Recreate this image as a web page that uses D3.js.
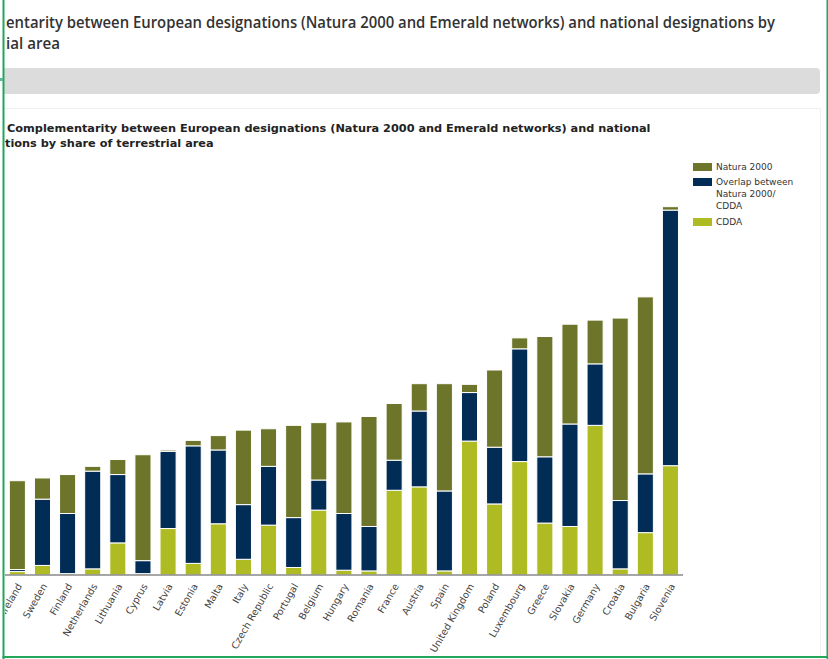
<!DOCTYPE html>
<html>
<head>
<meta charset="utf-8">
<script src="https://cdn.jsdelivr.net/npm/d3@7"></script>
<style>
  body { margin: 0; background: #fff; }
  svg { display: block; }
</style>
</head>
<body>
<svg id="chart" width="828" height="659"></svg>
<script>
// values in % of terrestrial area
var countries = ["Ireland", "Sweden", "Finland", "Netherlands", "Lithuania", "Cyprus", "Latvia", "Estonia",
  "Malta", "Italy", "Czech Republic", "Portugal", "Belgium", "Hungary", "Romania", "France", "Austria",
  "Spain", "United Kingdom", "Poland", "Luxembourg", "Greece", "Slovakia", "Germany", "Croatia",
  "Bulgaria", "Slovenia"];

var cdda = [0.5, 1.4, 0.2, 0.9, 4.7, 0.2, 6.8, 1.7, 7.5, 2.3, 7.3, 1.1, 9.5, 0.7, 0.6, 12.4, 12.9,
  0.6, 19.6, 10.4, 16.6, 7.6, 7.1, 21.9, 0.9, 6.2, 16.0];
var overlap = [0.3, 9.7, 8.8, 14.3, 10.0, 1.9, 11.3, 17.2, 10.8, 8.0, 8.6, 7.3, 4.4, 8.3, 6.5, 4.4, 11.1,
  11.7, 7.1, 8.3, 16.5, 9.7, 15.0, 9.0, 10.0, 8.6, 37.4];
var natura = [13.0, 3.1, 5.7, 0.7, 2.2, 15.5, 0.2, 0.8, 2.1, 10.9, 5.5, 13.5, 8.4, 13.4, 16.1, 8.3, 4.0,
  15.7, 1.2, 11.3, 1.6, 17.6, 14.6, 6.4, 26.7, 25.9, 0.5];

var seriesKeys = ["cdda", "overlap", "natura"];
var colors = {cdda: "#afbb22", overlap: "#002c56", natura: "#6c752a"};

var svg = d3.select("#chart");

// page frame
svg.append("rect").attr("x", 4).attr("y", 68).attr("width", 816).attr("height", 26)
  .attr("rx", 4).attr("fill", "#dcdcdc");
svg.append("rect").attr("x", 4).attr("y", 68).attr("width", 20).attr("height", 26).attr("fill", "#dcdcdc");
svg.append("path").attr("d", "M4,108.5H820.5V657").attr("fill", "none").attr("stroke", "#efefef");

svg.append("text").attr("x", 6).attr("y", 28)
  .attr("font-family", "'Open Sans', sans-serif").attr("font-weight", 600).attr("font-size", 16)
  .attr("fill", "#333").attr("textLength", 769).attr("lengthAdjust", "spacingAndGlyphs")
  .text("entarity between European designations (Natura 2000 and Emerald networks) and national designations by");
svg.append("text").attr("x", 6).attr("y", 49)
  .attr("font-family", "'Open Sans', sans-serif").attr("font-weight", 600).attr("font-size", 16)
  .attr("fill", "#333").attr("textLength", 54).attr("lengthAdjust", "spacingAndGlyphs")
  .text("ial area");

// chart title
svg.append("text").attr("x", 7).attr("y", 132)
  .attr("font-family", "'DejaVu Sans', Verdana, sans-serif").attr("font-weight", "bold").attr("font-size", 11.3)
  .attr("fill", "#222")
  .text("Complementarity between European designations (Natura 2000 and Emerald networks) and national");
svg.append("text").attr("x", 5).attr("y", 147)
  .attr("font-family", "'DejaVu Sans', Verdana, sans-serif").attr("font-weight", "bold").attr("font-size", 11.3)
  .attr("fill", "#222")
  .text("tions by share of terrestrial area");

var x = d3.scaleBand().domain(countries).range([4.8, 683]).paddingInner(0.36).paddingOuter(0.18);
var y = d3.scaleLinear().domain([0, 60]).range([575, 165]);

var table = countries.map(function(c, i) {
  return {country: c, cdda: cdda[i], overlap: overlap[i], natura: natura[i]};
});
var stacked = d3.stack().keys(seriesKeys)(table);

svg.append("clipPath").attr("id", "clip")
  .append("rect").attr("x", 5).attr("y", 0).attr("width", 820).attr("height", 656);

var plot = svg.append("g").attr("clip-path", "url(#clip)");

plot.selectAll(".series")
  .data(stacked)
  .enter().append("g")
    .attr("class", "series")
    .attr("fill", function(d) { return colors[d.key]; })
  .selectAll("rect")
  .data(function(d) { return d; })
  .enter().append("rect")
    .attr("x", function(d) { return x(d.data.country); })
    .attr("width", x.bandwidth())
    .attr("y", function(d) { return y(d[1]); })
    .attr("height", function(d) { return y(d[0]) - y(d[1]); })
    .attr("stroke", "#fff")
    .attr("stroke-width", 1);

var xAxis = plot.append("g")
  .attr("transform", "translate(0,575)")
  .call(d3.axisBottom(x).tickSize(0).tickPadding(0));
xAxis.select(".domain").attr("stroke", "#888").attr("stroke-width", 1.5).attr("d", "M4,0H683");
xAxis.selectAll("text")
  .attr("font-family", "'DejaVu Sans', Verdana, sans-serif")
  .attr("font-size", 9.7)
  .attr("fill", "#444")
  .attr("text-anchor", "end")
  .attr("dy", null)
  .attr("y", 0)
  .attr("transform", "translate(5,11) rotate(-60)");

// legend
var legendItems = [
  {key: "natura", lines: ["Natura 2000"], y: 163},
  {key: "overlap", lines: ["Overlap between", "Natura 2000/", "CDDA"], y: 178},
  {key: "cdda", lines: ["CDDA"], y: 218}
];
var legend = svg.append("g").attr("font-family", "'DejaVu Sans', Verdana, sans-serif").attr("font-size", 9);
legendItems.forEach(function(it) {
  legend.append("rect").attr("x", 693).attr("y", it.y).attr("width", 19).attr("height", 8)
    .attr("fill", colors[it.key]);
  var t = legend.append("text").attr("x", 716).attr("y", it.y + 7).attr("fill", "#333");
  it.lines.forEach(function(l, i) {
    t.append("tspan").attr("x", 716).attr("dy", i === 0 ? 0 : 12).text(l);
  });
});

// green borders of the screenshot
svg.append("rect").attr("x", 2.5).attr("y", 0).attr("width", 2).attr("height", 659).attr("fill", "#22a65a");
svg.append("rect").attr("x", 826.5).attr("y", 0).attr("width", 1.5).attr("height", 659).attr("fill", "#22a65a");
svg.append("rect").attr("x", 2.5).attr("y", 656).attr("width", 826).attr("height", 2).attr("fill", "#22a65a");
svg.append("rect").attr("x", 0).attr("y", 78).attr("width", 3).attr("height", 3).attr("fill", "#5bb89a");
</script>
</body>
</html>
